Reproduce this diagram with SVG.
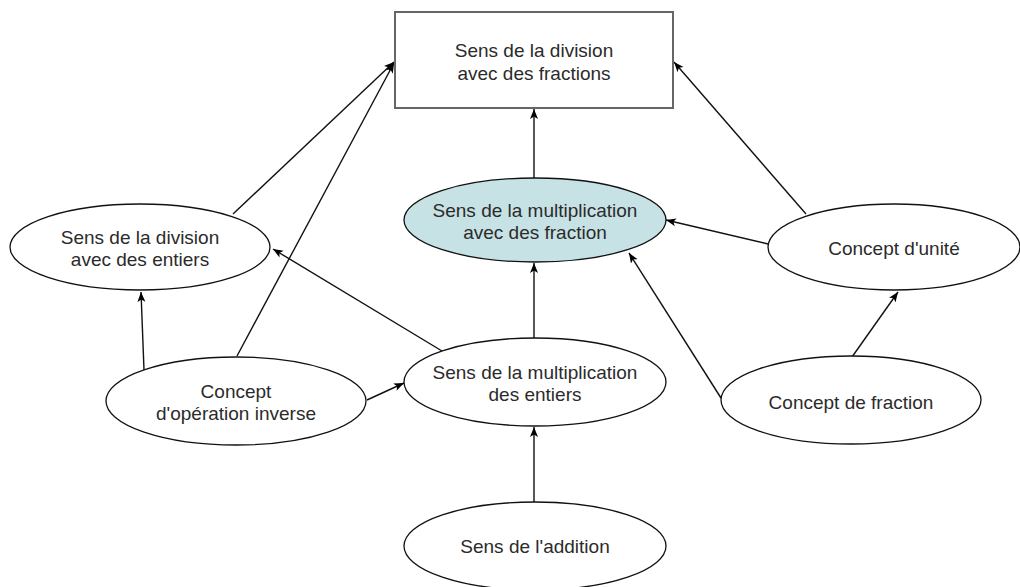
<svg xmlns="http://www.w3.org/2000/svg" width="1020" height="587" viewBox="0 0 1020 587">
<style>
.n{fill:#fff;stroke:#111;stroke-width:1.3}
.hl{fill:#c7e2e5}
.box{fill:#fff;stroke:#666;stroke-width:2}
text{font-family:"Liberation Sans",Arial,sans-serif;font-size:19px;fill:#2b2b2b;text-anchor:middle}
.c line{stroke:#111;stroke-width:1.4;marker-end:url(#a)}
</style>
<defs>
<marker id="a" markerUnits="userSpaceOnUse" markerWidth="12" markerHeight="10" refX="10" refY="4" orient="auto">
<path d="M0,0 L10,4 L0,8 L2.5,4 z" fill="#000"/>
</marker>
</defs>
<rect width="1020" height="587" fill="#fff"/>
<g class="c">
<line x1="233" y1="214" x2="394" y2="62"/>
<line x1="237" y1="356" x2="394" y2="63"/>
<line x1="534" y1="178" x2="534" y2="109"/>
<line x1="806" y1="214" x2="674" y2="62"/>
<line x1="768" y1="244" x2="666" y2="220"/>
<line x1="721" y1="398" x2="629" y2="253"/>
<line x1="852" y1="357" x2="898" y2="292"/>
<line x1="534" y1="338" x2="534" y2="263"/>
<line x1="442" y1="351" x2="273" y2="249"/>
<line x1="144" y1="370" x2="141" y2="292"/>
<line x1="367" y1="400" x2="404" y2="383"/>
<line x1="534" y1="502" x2="534" y2="427"/>
</g>
<g id="n-div-frac">
<rect class="box" x="395" y="12" width="278" height="96"/>
<text x="534" y="57">Sens de la division</text>
<text x="534" y="80">avec des fractions</text>
</g>
<g id="n-mult-frac">
<ellipse class="n hl" cx="535" cy="220" rx="131" ry="42"/>
<text x="535" y="217">Sens de la multiplication</text>
<text x="535" y="239">avec des fraction</text>
</g>
<g id="n-div-ent">
<ellipse class="n" cx="140" cy="247" rx="130" ry="43"/>
<text x="140" y="244">Sens de la division</text>
<text x="140" y="266">avec des entiers</text>
</g>
<g id="n-unite">
<ellipse class="n" cx="894" cy="247" rx="126" ry="43"/>
<text x="894" y="255">Concept d'unité</text>
</g>
<g id="n-op-inv">
<ellipse class="n" cx="236" cy="401" rx="130" ry="44"/>
<text x="236" y="398">Concept</text>
<text x="236" y="420">d'opération inverse</text>
</g>
<g id="n-mult-ent">
<ellipse class="n" cx="535" cy="382" rx="131" ry="44"/>
<text x="535" y="379">Sens de la multiplication</text>
<text x="535" y="401">des entiers</text>
</g>
<g id="n-fraction">
<ellipse class="n" cx="851" cy="400" rx="130" ry="44"/>
<text x="851" y="409">Concept de fraction</text>
</g>
<g id="n-addition">
<ellipse class="n" cx="535" cy="546" rx="131" ry="44"/>
<text x="535" y="553">Sens de l'addition</text>
</g>
</svg>
